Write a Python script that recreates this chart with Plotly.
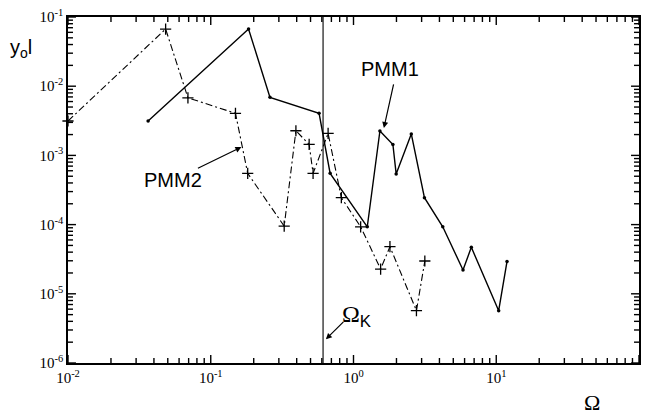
import numpy as np
import plotly.graph_objects as go

# Response amplitude vs. frequency ratio for two models
pmm1_omega = [0.0364, 0.184, 0.260, 0.574, 0.686, 1.249, 1.531, 1.888, 1.99, 2.54,
              3.14, 4.22, 5.85, 6.69, 10.4, 11.9]
pmm1_y = [3.14e-3, 6.7e-2, 6.9e-3, 4.06e-3, 5.5e-4, 9.3e-5, 2.25e-3, 1.44e-3, 5.4e-4,
          2.04e-3, 2.45e-4, 9.3e-5, 2.21e-5, 4.7e-5, 5.7e-6, 2.94e-5]

pmm2_omega = [0.0100, 0.0483, 0.0692, 0.149, 0.1815, 0.327, 0.395, 0.489, 0.521, 0.664,
              0.822, 1.122, 1.549, 1.80, 2.76, 3.16]
pmm2_y = [3.14e-3, 6.7e-2, 6.8e-3, 4.06e-3, 5.5e-4, 9.5e-5, 2.27e-3, 1.44e-3, 5.5e-4,
          2.08e-3, 2.45e-4, 9.3e-5, 2.28e-5, 4.8e-5, 5.7e-6, 2.98e-5]

omega_k = 0.612

x_ticks = [1e-2, 1e-1, 1e0, 1e1, 1e2]
x_ticktext = ["10<sup>-2</sup>", "10<sup>-1</sup>", "10<sup>0</sup>", "10<sup>1</sup>", "10<sup>2</sup>"]
y_ticks = [1e-6, 1e-5, 1e-4, 1e-3, 1e-2, 1e-1]
y_ticktext = ["10<sup>-6</sup>", "10<sup>-5</sup>", "10<sup>-4</sup>", "10<sup>-3</sup>",
              "10<sup>-2</sup>", "10<sup>-1</sup>"]

X_RANGE = [-2, 2]
Y_RANGE = [-6, -1]
WIDTH, HEIGHT = 647, 414
MARGIN = dict(l=68, r=6, t=17, b=51)
PLOT_W = WIDTH - MARGIN["l"] - MARGIN["r"]
PLOT_H = HEIGHT - MARGIN["t"] - MARGIN["b"]


def minor_vals(lo, hi):
    return [k * 10.0 ** d for d in range(lo, hi) for k in range(2, 10)]


SERIF = "Liberation Serif, Times New Roman, serif"
SANS = "Liberation Sans, Arial, sans-serif"

fig = go.Figure()


def add_ticks(values, length_px, side):
    """Inward tick segments along one side of the frame."""
    xs, ys = [], []
    if side in ("bottom", "top"):
        dec = length_px * (Y_RANGE[1] - Y_RANGE[0]) / PLOT_H
        if side == "bottom":
            a = 10.0 ** Y_RANGE[0]
            b = a * 10 ** dec
        else:
            a = 10.0 ** Y_RANGE[1]
            b = a / 10 ** dec
        for v in values:
            xs += [v, v, None]
            ys += [a, b, None]
    else:
        dec = length_px * (X_RANGE[1] - X_RANGE[0]) / PLOT_W
        if side == "left":
            a = 10.0 ** X_RANGE[0]
            b = a * 10 ** dec
        else:
            a = 10.0 ** X_RANGE[1]
            b = a / 10 ** dec
        for v in values:
            ys += [v, v, None]
            xs += [a, b, None]
    fig.add_trace(go.Scatter(x=xs, y=ys, mode="lines", hoverinfo="skip",
                             cliponaxis=False,
                             line=dict(color="black", width=1.4, simplify=False)))


for s in ("bottom", "top"):
    add_ticks(x_ticks, 8, s)
    add_ticks(minor_vals(-2, 2), 5, s)
for s in ("left", "right"):
    add_ticks(y_ticks, 8, s)
    add_ticks(minor_vals(-6, -1), 5, s)

fig.add_trace(go.Scatter(
    x=[omega_k, omega_k], y=[1e-6, 1e-1], mode="lines",
    line=dict(color="black", width=1.1), hoverinfo="skip",
))
fig.add_trace(go.Scatter(
    x=pmm1_omega, y=pmm1_y, mode="lines+markers", name="PMM1",
    line=dict(color="black", width=1.4),
    marker=dict(symbol="circle", size=3.5, color="black"),
))
fig.add_trace(go.Scatter(
    x=pmm2_omega, y=pmm2_y, mode="lines+markers", name="PMM2", cliponaxis=False,
    line=dict(color="black", width=1.1, dash="7px,3px,2px,3px"),
    marker=dict(symbol="cross-thin", size=8, line=dict(color="black", width=1.3)),
))


def axis(rng, vals, text):
    return dict(
        type="log", range=rng, tickmode="array", tickvals=vals, ticktext=text,
        ticks="", showgrid=False, zeroline=False,
        showline=True, linecolor="#000000", linewidth=1.6, mirror=True,
        tickfont=dict(family=SERIF, size=15, color="black"),
    )


fig.update_layout(xaxis=axis(X_RANGE, x_ticks, x_ticktext),
                  yaxis=axis(Y_RANGE, y_ticks, y_ticktext))

center = dict(xanchor="center", yanchor="middle")

annotations = [
    # curve labels with pointer arrows
    dict(x=np.log10(1.633), y=np.log10(2.49e-3), xref="x", yref="y", text="",
         showarrow=True, arrowhead=2, arrowsize=1, arrowwidth=1.2, arrowcolor="black",
         ax=10, ay=-45),
    dict(x=(391 - 68) / PLOT_W, y=(363 - 69) / PLOT_H, xref="paper", yref="paper",
         text="PMM1", showarrow=False, font=dict(family=SANS, size=20, color="black"),
         **center),
    dict(x=np.log10(0.164), y=np.log10(1.32e-3), xref="x", yref="y", text="",
         showarrow=True, arrowhead=2, arrowsize=1, arrowwidth=1.2, arrowcolor="black",
         ax=-45, ay=22),
    dict(x=(173 - 68) / PLOT_W, y=(363 - 180) / PLOT_H, xref="paper", yref="paper",
         text="PMM2", showarrow=False, font=dict(family=SANS, size=20, color="black"),
         **center),
    # critical frequency marker
    dict(x=np.log10(omega_k) + 0.02, y=np.log10(2.2e-6), xref="x", yref="y", text="",
         showarrow=True, arrowhead=2, arrowsize=1, arrowwidth=1.2, arrowcolor="black",
         ax=19, ay=-19),
    dict(x=(358 - 68) / PLOT_W, y=(363 - 316) / PLOT_H, xref="paper", yref="paper",
         text="Ω<sub><span style='font-family:Liberation Sans'>K</span></sub>",
         showarrow=False, font=dict(family=SERIF, size=24, color="black"), **center),
    # axis titles
    dict(x=(21 - 68) / PLOT_W, y=(363 - 48) / PLOT_H, xref="paper", yref="paper",
         text="y<sub>o</sub>l", showarrow=False,
         font=dict(family=SANS, size=20, color="black"), **center),
    dict(x=(594 - 68) / PLOT_W, y=(363 - 402) / PLOT_H, xref="paper", yref="paper",
         text="Ω", showarrow=False, font=dict(family=SERIF, size=22, color="black"),
         **center),
]

fig.update_layout(
    width=WIDTH, height=HEIGHT, autosize=False,
    margin=MARGIN,
    paper_bgcolor="white", plot_bgcolor="white",
    showlegend=False,
    annotations=annotations,
)

fig.write_html("out.html")
